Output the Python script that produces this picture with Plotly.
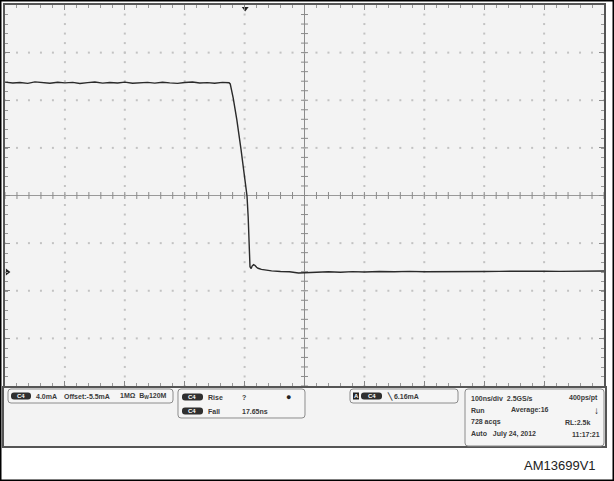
import numpy as np
import plotly.graph_objects as go

W, H = 614, 481

# ---- data (time in ns, current in mA) ----
t_high = [-500, -487, -475, -462, -450, -437, -425, -412, -400, -387, -375, -362, -350,
          -337, -325, -312, -300, -287, -275, -262, -250, -237, -225, -212, -200, -187,
          -175, -162, -150, -137, -126]
i_high = [15.95, 15.88, 15.92, 15.85, 15.97, 15.90, 15.86, 15.94, 15.89, 15.93, 15.84,
          15.91, 15.96, 15.87, 15.92, 15.88, 15.95, 15.86, 15.90, 15.93, 15.87, 15.94,
          15.89, 15.85, 15.92, 15.96, 15.88, 15.91, 15.86, 15.93, 15.90]
t_edge = [-124, -119, -113, -106, -100, -96, -94, -92.5, -91, -89, -87.5, -85, -82.5,
          -80, -77.5, -72, -66]
i_edge = [15.8, 14.6, 12.8, 10.3, 8.1, 6.4, 4.6, 2.7, 0.45, 0.30, 0.50, 0.62, 0.55,
          0.40, 0.32, 0.22, 0.17]
t_low = [-55, -40, -25, -10, 5, 20, 40, 60, 80, 100, 125, 150, 175, 200, 225, 250, 275,
         300, 325, 350, 375, 400, 425, 450, 475, 500]
i_low = [0.10, 0.05, 0.02, -0.08, -0.04, 0.00, 0.03, -0.02, 0.04, 0.01, 0.05, 0.02,
         0.06, 0.03, 0.05, 0.04, 0.07, 0.05, 0.06, 0.08, 0.05, 0.07, 0.06, 0.08, 0.07, 0.09]

t = t_high + t_edge + t_low
i = i_high + i_edge + i_low

ma_per_div = 4.0
ns_per_div = 100.0
center_ma = 6.43          # screen centre level
trig_pos_ns = -99         # trigger position marker

x_range = [-5 * ns_per_div, 5 * ns_per_div]
y_range = [center_ma - 4 * ma_per_div, center_ma + 4 * ma_per_div]

# screen geometry (pixels)
SX0, SX1, SY0, SY1 = 5, 604, 5, 386


def px(x):
    return x / W


def py(y):
    return 1 - y / H


def rrect(x0, y0, x1, y1, r):
    pts = [("M", x0 + r, y0), ("L", x1 - r, y0), ("Q", x1, y0, x1, y0 + r),
           ("L", x1, y1 - r), ("Q", x1, y1, x1 - r, y1), ("L", x0 + r, y1),
           ("Q", x0, y1, x0, y1 - r), ("L", x0, y0 + r), ("Q", x0, y0, x0 + r, y0)]
    s = ""
    for p in pts:
        cmd = p[0]
        coords = p[1:]
        parts = []
        for k in range(0, len(coords), 2):
            parts.append(f"{px(coords[k]):.5f},{py(coords[k+1]):.5f}")
        s += cmd + " " + " ".join(parts) + " "
    return s + "Z"


fig = go.Figure()

# dotted graticule (dots every 1/5 division along each grid line)
gx_lines = np.arange(x_range[0] + ns_per_div, x_range[1], ns_per_div)
gy_lines = np.arange(y_range[0] + ma_per_div, y_range[1] - 0.01, ma_per_div)
sub_x = np.arange(x_range[0], x_range[1] + 0.1, ns_per_div / 5)
sub_y = np.arange(y_range[0], y_range[1] + 0.01, ma_per_div / 5)
dx, dy = [], []
for gx in gx_lines:
    if abs(gx) < 1e-6:
        continue
    dx += [gx] * len(sub_y)
    dy += list(sub_y)
for gy in gy_lines:
    if abs(gy - center_ma) < 1e-6:
        continue
    dx += list(sub_x)
    dy += [gy] * len(sub_x)
fig.add_trace(go.Scatter(x=dx, y=dy, mode="markers",
                         marker=dict(symbol="square", size=2, color="#c2c2c2",
                                     line=dict(width=0)),
                         hoverinfo="skip", showlegend=False))

# centre-line minor ticks
hx = np.arange(x_range[0], x_range[1] + 1, ns_per_div / 5)
fig.add_trace(go.Scatter(x=hx, y=[center_ma] * len(hx), mode="markers",
                         marker=dict(symbol="line-ns-open", size=5, color="#8a8a8a",
                                     line=dict(width=1, color="#8a8a8a")),
                         hoverinfo="skip", showlegend=False))
vy = np.arange(y_range[0], y_range[1] + 0.01, ma_per_div / 5)
fig.add_trace(go.Scatter(x=[0] * len(vy), y=vy, mode="markers",
                         marker=dict(symbol="line-ew-open", size=5, color="#8a8a8a",
                                     line=dict(width=1, color="#8a8a8a")),
                         hoverinfo="skip", showlegend=False))

# waveform
fig.add_trace(go.Scatter(x=t, y=i, mode="lines",
                         line=dict(color="#2a2a2a", width=1.4),
                         hoverinfo="skip", showlegend=False))

# ground marker and trigger position marker
fig.add_trace(go.Scatter(x=[x_range[0] + 4], y=[0], mode="markers",
                         marker=dict(symbol="triangle-right", size=6, color="#222"),
                         cliponaxis=False, hoverinfo="skip", showlegend=False))
fig.add_trace(go.Scatter(x=[trig_pos_ns], y=[y_range[1] - 0.3], mode="markers",
                         marker=dict(symbol="triangle-down", size=6, color="#222"),
                         cliponaxis=False, hoverinfo="skip", showlegend=False))

shapes = []
# panel background
shapes.append(dict(type="rect", xref="paper", yref="paper",
                   x0=px(3), x1=px(606), y0=py(447), y1=py(387),
                   fillcolor="#f3f3f3", line=dict(color="#555", width=2), layer="below"))
# screen frame
shapes.append(dict(type="rect", xref="paper", yref="paper",
                   x0=px(4), x1=px(605), y0=py(387), y1=py(4),
                   line=dict(color="#555", width=2)))
# centre horizontal line
shapes.append(dict(type="line", xref="x", yref="y", x0=x_range[0], x1=x_range[1],
                   y0=center_ma, y1=center_ma, line=dict(color="#999", width=1),
                   layer="below"))
# outer black border
shapes.append(dict(type="rect", xref="paper", yref="paper", x0=0, x1=1, y0=0, y1=1,
                   line=dict(color="#000", width=3)))

# info boxes
for (x0, y0, x1, y1) in [(8, 389, 173, 403), (178, 389, 305, 418),
                         (350, 389, 458, 403), (465, 389, 604, 446)]:
    shapes.append(dict(type="path", xref="paper", yref="paper",
                       path=rrect(x0, y0, x1, y1, 3),
                       fillcolor="#f5f5f5", line=dict(color="#8c8c8c", width=1)))

annotations = []


def badge(x0, x1, yc, label):
    shapes.append(dict(type="path", xref="paper", yref="paper",
                       path=rrect(x0, yc - 3.5, x1, yc + 3.5, 3),
                       fillcolor="#2f2f2f", line=dict(width=0)))
    annotations.append(dict(x=px((x0 + x1) / 2), y=py(yc), xref="paper", yref="paper",
                            text=f"<b>{label}</b>", showarrow=False,
                            font=dict(size=6, color="white", family="Liberation Sans"),
                            xanchor="center", yanchor="middle"))


def txt(x, y, s, anchor="left", size=7, color="#3a3a3a"):
    annotations.append(dict(x=px(x), y=py(y), xref="paper", yref="paper", text=s,
                            showarrow=False, xanchor=anchor, yanchor="middle",
                            font=dict(size=size, color=color, family="Liberation Sans")))


badge(11, 31, 396, "C4")
txt(34, 396, "<b>4.0mA</b>")
txt(62, 396, "<b>Offset:-5.5mA</b>")
txt(118, 396, "<b>1MΩ  B<sub>W</sub>120M</b>")

badge(182, 203, 397, "C4")
txt(206, 397, "<b>Rise</b>")
txt(240, 397, "<b>?</b>")
txt(288, 397, "●", anchor="center", size=9, color="#222")
badge(182, 203, 411, "C4")
txt(206, 411, "<b>Fall</b>")
txt(240, 411, "<b>17.65ns</b>")

shapes.append(dict(type="rect", xref="paper", yref="paper", x0=px(353), x1=px(359),
                   y0=py(399.5), y1=py(392.5), fillcolor="#222", line=dict(width=0)))
txt(356, 396, "<b>A</b>", anchor="center", size=6, color="white")
badge(361, 382, 396, "C4")
txt(385, 396, "<b>╲ 6.16mA</b>")

txt(469, 398, "<b>100ns/div  2.5GS/s</b>")
txt(600, 398, "<b>400ps/pt</b>", anchor="right")
txt(469, 410, "<b>Run</b>")
txt(509, 410, "<b>Average:16</b>")
txt(596, 410, "<b>↓</b>", anchor="center", size=10, color="#222")
txt(469, 422, "<b>728 acqs</b>")
txt(592, 422, "<b>RL:2.5k</b>", anchor="right")
txt(469, 434, "<b>Auto   July 24, 2012</b>")
txt(602, 434, "<b>11:17:21</b>", anchor="right")

txt(598, 465, "AM13699V1", anchor="right", size=13, color="#222")

fig.update_layout(
    width=W, height=H, margin=dict(l=0, r=0, t=0, b=0),
    paper_bgcolor="white", plot_bgcolor="#f3f3f3",
    shapes=shapes, annotations=annotations,
    xaxis=dict(domain=[px(SX0), px(SX1)], range=x_range, dtick=ns_per_div,
               tick0=0, showgrid=False,
               zeroline=True, zerolinecolor="#8c8c8c", zerolinewidth=1,
               showticklabels=False, ticks="inside", ticklen=5, tickcolor="#888",
               mirror="ticks", showline=False,
               minor=dict(dtick=ns_per_div / 5, ticks="inside", ticklen=3,
                          tickcolor="#999", showgrid=False),
               fixedrange=True),
    yaxis=dict(domain=[py(SY1), py(SY0)], range=y_range, dtick=ma_per_div,
               tick0=center_ma, showgrid=False, zeroline=False,
               showticklabels=False, ticks="inside", ticklen=5, tickcolor="#888",
               mirror="ticks", showline=False,
               minor=dict(dtick=ma_per_div / 5, ticks="inside", ticklen=3,
                          tickcolor="#999", showgrid=False),
               fixedrange=True),
)

fig.write_html("out.html")
